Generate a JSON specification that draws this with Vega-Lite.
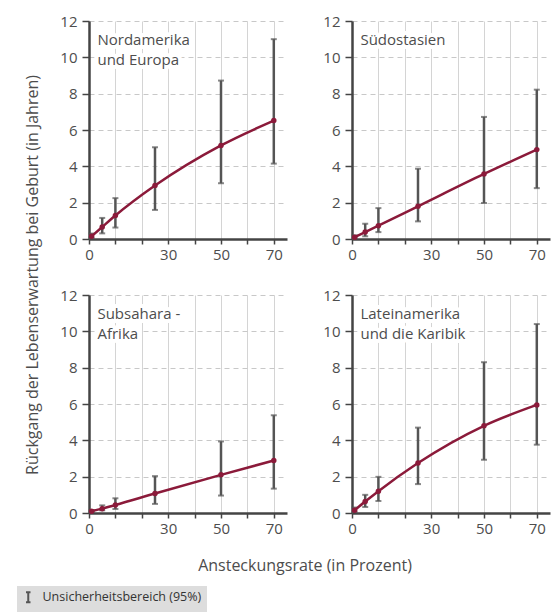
{
  "$schema": "https://vega.github.io/schema/vega-lite/v6.json",
  "padding": {"top": 14, "left": 17, "right": 4, "bottom": 0},
  "background": "white",
  "config": {
    "font": "Open Sans",
    "view": {"stroke": null},
    "axis": {"labelFont": "Open Sans", "labelColor": "#4d4d4d", "labelFontSize": 15, "titleFont": "Open Sans", "labelOverlap": false},
    "axisX": {"grid": true, "gridColor": "#d4d4d4", "gridWidth": 1,
      "domainColor": "#444444", "domainWidth": 2.5, "tickColor": "#444444", "tickWidth": 1.5, "tickSize": 5,
      "labelPadding": 3, "labelFlush": false},
    "axisY": {"grid": true, "gridColor": "#c8c8c8", "gridDash": [5, 4], "gridWidth": 1,
      "domainColor": "#444444", "domainWidth": 2.5, "tickColor": "#444444", "tickWidth": 1.5, "tickSize": 7,
      "labelPadding": 5},
    "legend": {"labelFont": "Open Sans"}
  },
  "data": {"values": [
    {"region": "Nordamerika\nund Europa", "x": 1, "y": 0.15, "lo": 0.05, "hi": 0.3},
    {"region": "Nordamerika\nund Europa", "x": 5, "y": 0.66, "lo": 0.31, "hi": 1.16},
    {"region": "Nordamerika\nund Europa", "x": 10, "y": 1.29, "lo": 0.63, "hi": 2.25},
    {"region": "Nordamerika\nund Europa", "x": 25, "y": 2.94, "lo": 1.6, "hi": 5.05},
    {"region": "Nordamerika\nund Europa", "x": 50, "y": 5.15, "lo": 3.07, "hi": 8.72},
    {"region": "Nordamerika\nund Europa", "x": 70, "y": 6.52, "lo": 4.15, "hi": 11.0},
    {"region": "Südostasien", "x": 1, "y": 0.1, "lo": 0.04, "hi": 0.2},
    {"region": "Südostasien", "x": 5, "y": 0.38, "lo": 0.15, "hi": 0.84},
    {"region": "Südostasien", "x": 10, "y": 0.73, "lo": 0.38, "hi": 1.7},
    {"region": "Südostasien", "x": 25, "y": 1.8, "lo": 0.97, "hi": 3.87},
    {"region": "Südostasien", "x": 50, "y": 3.58, "lo": 1.98, "hi": 6.72},
    {"region": "Südostasien", "x": 70, "y": 4.92, "lo": 2.8, "hi": 8.22},
    {"region": "Subsahara -\nAfrika", "x": 1, "y": 0.1, "lo": 0.04, "hi": 0.15},
    {"region": "Subsahara -\nAfrika", "x": 5, "y": 0.24, "lo": 0.15, "hi": 0.42},
    {"region": "Subsahara -\nAfrika", "x": 10, "y": 0.44, "lo": 0.22, "hi": 0.81},
    {"region": "Subsahara -\nAfrika", "x": 25, "y": 1.07, "lo": 0.5, "hi": 2.03},
    {"region": "Subsahara -\nAfrika", "x": 50, "y": 2.1, "lo": 0.96, "hi": 3.94},
    {"region": "Subsahara -\nAfrika", "x": 70, "y": 2.89, "lo": 1.34, "hi": 5.38},
    {"region": "Lateinamerika\nund die Karibik", "x": 1, "y": 0.15, "lo": 0.05, "hi": 0.3},
    {"region": "Lateinamerika\nund die Karibik", "x": 5, "y": 0.63, "lo": 0.33, "hi": 1.0},
    {"region": "Lateinamerika\nund die Karibik", "x": 10, "y": 1.2, "lo": 0.66, "hi": 1.99},
    {"region": "Lateinamerika\nund die Karibik", "x": 25, "y": 2.75, "lo": 1.59, "hi": 4.7},
    {"region": "Lateinamerika\nund die Karibik", "x": 50, "y": 4.8, "lo": 2.93, "hi": 8.3},
    {"region": "Lateinamerika\nund die Karibik", "x": 70, "y": 5.95, "lo": 3.76, "hi": 10.4}
  ]},
  "transform": [
    {"calculate": "indexof(['Nordamerika\\nund Europa', 'Südostasien'], datum.region) >= 0 ? 'oben' : 'unten'", "as": "zeile"},
    {"calculate": "indexof(['Nordamerika\\nund Europa', 'Subsahara -\\nAfrika'], datum.region) >= 0 ? 'links' : 'rechts'", "as": "spalte"}
  ],
  "facet": {
    "row": {"field": "zeile", "type": "nominal", "title": "Rückgang der Lebenserwartung bei Geburt (in Jahren)",
      "header": {"labels": false, "titleFont": "Open Sans", "titleFontSize": 16, "titleFontWeight": "normal", "titleColor": "#4d4d4d", "titlePadding": 8}},
    "column": {"field": "spalte", "type": "nominal", "title": "Ansteckungsrate (in Prozent)",
      "header": {"labels": false, "titleOrient": "bottom", "labelOrient": "bottom", "titleFont": "Open Sans", "titleFontSize": 16, "titleFontWeight": "normal", "titleColor": "#4d4d4d", "titlePadding": 12}}
  },
  "spacing": {"row": 26, "column": 35},
  "resolve": {"axis": {"x": "independent", "y": "independent"}},
  "spec": {
    "width": 198,
    "height": 218,
    "encoding": {
      "x": {"field": "x", "type": "quantitative",
        "scale": {"domain": [0, 75], "nice": false, "zero": true},
        "axis": {"title": null, "values": [0, 10, 20, 30, 40, 50, 60, 70],
          "labelExpr": "datum.value == 0 || datum.value == 30 || datum.value == 50 || datum.value == 70 ? datum.label : ''"}}
    },
    "layer": [
      {
        "mark": {"type": "rule", "strokeWidth": 2.5},
        "encoding": {
          "y": {"field": "lo", "type": "quantitative",
            "scale": {"domain": [0, 12], "nice": false},
            "axis": {"title": null, "values": [0, 2, 4, 6, 8, 10, 12], "grid": true}},
          "y2": {"field": "hi"},
          "color": {"datum": "Unsicherheitsbereich (95%)", "type": "nominal",
            "scale": {"range": ["#555555"]},
            "legend": {"title": null, "orient": "none", "legendX": -72, "legendY": 565, "direction": "horizontal",
              "fillColor": "#dddddd", "padding": 5,
              "symbolType": "M-0.45,-1H0.45M0,-1V1M-0.45,1H0.45", "symbolSize": 100, "symbolStrokeWidth": 2,
              "symbolStrokeColor": "#333333", "symbolFillColor": "transparent",
              "labelFontSize": 12.5, "labelColor": "#333333", "labelOffset": 8}}
        }
      },
      {
        "mark": {"type": "tick", "orient": "horizontal", "color": "#555555", "size": 6, "thickness": 2},
        "encoding": {"y": {"field": "lo", "type": "quantitative", "axis": {"title": null, "values": [0, 2, 4, 6, 8, 10, 12], "grid": true}}}
      },
      {
        "mark": {"type": "tick", "orient": "horizontal", "color": "#555555", "size": 6, "thickness": 2},
        "encoding": {"y": {"field": "hi", "type": "quantitative", "axis": {"title": null, "values": [0, 2, 4, 6, 8, 10, 12], "grid": true}}}
      },
      {
        "mark": {"type": "line", "color": "#8b1a3a", "strokeWidth": 2.5, "interpolate": "monotone"},
        "encoding": {"y": {"field": "y", "type": "quantitative", "axis": {"title": null, "values": [0, 2, 4, 6, 8, 10, 12], "grid": true}}}
      },
      {
        "mark": {"type": "circle", "color": "#8b1a3a", "size": 30, "opacity": 1},
        "encoding": {"y": {"field": "y", "type": "quantitative", "axis": {"title": null, "values": [0, 2, 4, 6, 8, 10, 12], "grid": true}}}
      },
      {
        "transform": [{"filter": "datum.x == 1"}],
        "mark": {"type": "text", "align": "left", "baseline": "alphabetic", "lineBreak": "\n", "lineHeight": 20,
          "font": "Open Sans", "fontSize": 15, "stroke": "white", "strokeWidth": 8, "strokeJoin": "round", "fill": "white"},
        "encoding": {"x": {"datum": 3.2, "type": "quantitative"}, "y": {"datum": 10.7, "type": "quantitative", "axis": {"title": null, "values": [0, 2, 4, 6, 8, 10, 12], "grid": true}}, "text": {"field": "region"}}
      },
      {
        "transform": [{"filter": "datum.x == 1"}],
        "mark": {"type": "text", "align": "left", "baseline": "alphabetic", "lineBreak": "\n", "lineHeight": 20,
          "font": "Open Sans", "fontSize": 15, "color": "#4d4d4d"},
        "encoding": {"x": {"datum": 3.2, "type": "quantitative"}, "y": {"datum": 10.7, "type": "quantitative", "axis": {"title": null, "values": [0, 2, 4, 6, 8, 10, 12], "grid": true}}, "text": {"field": "region"}}
      }
    ]
  }
}
